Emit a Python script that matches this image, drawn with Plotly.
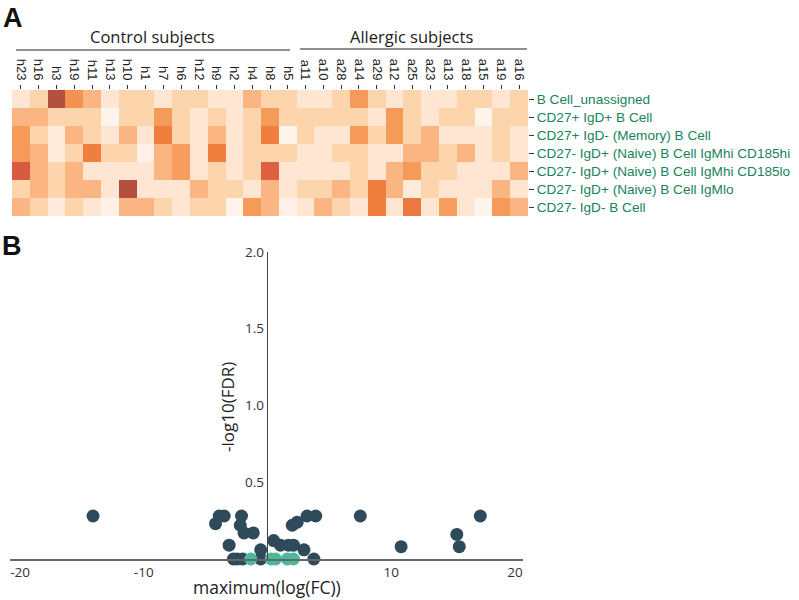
import plotly.graph_objects as go

W, H = 799, 600

# ---------------- Panel A data ----------------
subjects = ["h23", "h16", "h3", "h19", "h11", "h13", "h10", "h1", "h7", "h6", "h12", "h9",
            "h2", "h4", "h8", "h5",
            "a11", "a10", "a28", "a14", "a29", "a12", "a25", "a23", "a13", "a18", "a15", "a19", "a16"]
cell_types = ["B Cell_unassigned",
              "CD27+ IgD+ B Cell",
              "CD27+ IgD- (Memory) B Cell",
              "CD27- IgD+ (Naive) B Cell IgMhi CD185hi",
              "CD27- IgD+ (Naive) B Cell IgMhi CD185lo",
              "CD27- IgD+ (Naive) B Cell IgMlo",
              "CD27- IgD- B Cell"]
row_unassigned = [0.2, 0.3, 1.0, 0.65, 0.45, 0.2, 0.3, 0.3, 0.2, 0.3, 0.3, 0.2, 0.2, 0.45, 0.3, 0.3,
                  0.2, 0.2, 0.3, 0.62, 0.3, 0.2, 0.3, 0.2, 0.2, 0.3, 0.3, 0.2, 0.3]
row_cd27p_igdp = [0.45, 0.45, 0.3, 0.3, 0.3, 0.05, 0.3, 0.3, 0.62, 0.3, 0.2, 0.3, 0.2, 0.3, 0.62, 0.3,
                  0.3, 0.3, 0.3, 0.3, 0.2, 0.62, 0.3, 0.2, 0.3, 0.3, 0.05, 0.3, 0.3]
row_memory = [0.62, 0.3, 0.15, 0.45, 0.3, 0.2, 0.45, 0.2, 0.72, 0.3, 0.2, 0.45, 0.2, 0.3, 0.72, 0.05,
              0.3, 0.2, 0.2, 0.62, 0.3, 0.62, 0.3, 0.45, 0.2, 0.2, 0.2, 0.3, 0.2]
row_cd185hi = [0.62, 0.45, 0.15, 0.3, 0.72, 0.3, 0.3, 0.08, 0.45, 0.6, 0.2, 0.72, 0.2, 0.3, 0.3, 0.3,
               0.2, 0.2, 0.3, 0.3, 0.2, 0.2, 0.45, 0.45, 0.3, 0.45, 0.2, 0.3, 0.2]
row_cd185lo = [0.88, 0.45, 0.3, 0.45, 0.2, 0.2, 0.2, 0.2, 0.45, 0.6, 0.2, 0.3, 0.2, 0.3, 0.85, 0.2,
               0.2, 0.2, 0.2, 0.3, 0.2, 0.45, 0.62, 0.3, 0.3, 0.2, 0.2, 0.2, 0.45]
row_igmlo = [0.3, 0.45, 0.3, 0.45, 0.45, 0.2, 1.0, 0.2, 0.2, 0.2, 0.45, 0.3, 0.3, 0.2, 0.45, 0.2,
             0.3, 0.3, 0.45, 0.3, 0.72, 0.45, 0.15, 0.3, 0.2, 0.2, 0.2, 0.45, 0.2]
row_cd27m_igdm = [0.45, 0.3, 0.15, 0.3, 0.2, 0.08, 0.45, 0.45, 0.3, 0.2, 0.3, 0.3, 0.05, 0.62, 0.45, 0.08,
                  0.2, 0.45, 0.3, 0.2, 0.72, 0.2, 0.75, 0.2, 0.6, 0.2, 0.05, 0.62, 0.45]
heat_z = [row_unassigned, row_cd27p_igdp, row_memory, row_cd185hi,
          row_cd185lo, row_igmlo, row_cd27m_igdm]

# ---------------- Panel B data ----------------
dark_logfc = [-14.1, -3.9, -3.5, -4.2, -2.1, -2.2, -1.9, -1.15, -3.1, -2.75, -2.45, -2.0,
              -0.55, -0.55, 0.5, 1.05, 1.7, 2.1, 2.0, 2.4, 3.2, 3.9, 2.95, 3.75,
              7.5, 10.8, 15.3, 15.5, 17.2]
dark_fdr = [0.28, 0.28, 0.28, 0.23, 0.28, 0.22, 0.17, 0.17, 0.09, 0.0, 0.0, 0.0,
            0.06, 0.0, 0.12, 0.09, 0.09, 0.09, 0.22, 0.24, 0.28, 0.28, 0.06, 0.0,
            0.28, 0.08, 0.16, 0.08, 0.28]
teal_logfc = [-1.35, 0.3, 0.65, 1.6, 2.1]
teal_fdr = [0.0, 0.0, 0.0, 0.0, 0.0]
x_ticks = [-20, -10, 10, 20]
y_ticks = [0.5, 1.0, 1.5, 2.0]


def px(x):
    return x / W


def py(y):
    return 1 - y / H


colorscale = [[0, '#fffaf5'], [0.05, '#fff4ec'], [0.2, '#fee6d3'], [0.3, '#fdd5ad'],
              [0.45, '#fbb582'], [0.62, '#f69a5a'], [0.72, '#f07e3e'],
              [0.87, '#db5b42'], [1, '#b4503f']]

fig = go.Figure()
fig.add_trace(go.Heatmap(z=heat_z, x=subjects, y=cell_types, colorscale=colorscale,
                         zmin=0, zmax=1, showscale=False, xaxis='x', yaxis='y',
                         hoverinfo='skip'))

fig.add_trace(go.Scatter(x=dark_logfc, y=dark_fdr, mode='markers', xaxis='x2', yaxis='y2',
                         marker=dict(size=13, color='#2f4a5b'), cliponaxis=False,
                         showlegend=False))
fig.add_trace(go.Scatter(x=teal_logfc, y=teal_fdr, mode='markers', xaxis='x2', yaxis='y2',
                         marker=dict(size=13, color='#4cb89e'), cliponaxis=False,
                         showlegend=False))

sans = "Liberation Sans, Arial, sans-serif"
humanist = "Open Sans, sans-serif"

fig.update_layout(
    width=W, height=H, margin=dict(l=0, r=0, t=0, b=0, autoexpand=False),
    paper_bgcolor='white', plot_bgcolor='white', showlegend=False,
    xaxis=dict(domain=[px(12), px(528)], anchor='y', side='top', type='category',
               tickangle=90, ticks='outside', ticklen=4, tickcolor='#333',
               tickfont=dict(family=sans, size=13, color='#222'), automargin=False,
               showline=False, showgrid=False, zeroline=False, fixedrange=True),
    yaxis=dict(domain=[py(216), py(90)], anchor='x', side='right', type='category',
               autorange='reversed', ticks='outside', ticklen=5, tickcolor='#333',
               tickfont=dict(family=sans, size=13.6, color='#17845a'), automargin=False,
               showline=False, showgrid=False, zeroline=False),
    xaxis2=dict(domain=[px(10), px(523)], anchor='y2', range=[-20.81, 20.65],
                tickvals=x_ticks, ticktext=[str(v) for v in x_ticks], ticks='',
                tickfont=dict(family=humanist, size=13.5, color='#333'), automargin=False,
                showline=True, linecolor='#666', linewidth=2,
                showgrid=False, zeroline=False),
    yaxis2=dict(domain=[py(559), py(252)], anchor='free', position=px(266.7),
                range=[0, 2.0], tickvals=y_ticks, ticktext=['0.5', '1.0', '1.5', '2.0'],
                ticks='', tickfont=dict(family=humanist, size=13.5, color='#333'), automargin=False,
                showline=True, linecolor='#444', linewidth=1.2,
                showgrid=False, zeroline=False),
)

annotations = [
    dict(text="<b>A</b>", x=px(1), y=py(18), xanchor='left', yanchor='middle',
         font=dict(family=sans, size=27, color='#111')),
    dict(text="<b>B</b>", x=px(0), y=py(246), xanchor='left', yanchor='middle',
         font=dict(family=sans, size=27, color='#111')),
    dict(text="Control subjects", x=px(152), y=py(37), xanchor='center', yanchor='middle',
         font=dict(family=humanist, size=16.5, color='#222')),
    dict(text="Allergic subjects", x=px(411), y=py(37), xanchor='center', yanchor='middle',
         font=dict(family=humanist, size=16.5, color='#222')),
    dict(text="-log10(FDR)", x=px(227), y=py(407), xanchor='center', yanchor='middle',
         textangle=-90, font=dict(family=humanist, size=17, color='#222')),
    dict(text="maximum(log(FC))", x=px(267), y=py(587), xanchor='center', yanchor='middle',
         font=dict(family=humanist, size=17.5, color='#222')),
]
for a in annotations:
    a.update(xref='paper', yref='paper', showarrow=False)
fig.update_layout(annotations=annotations)

fig.update_layout(shapes=[
    dict(type='line', xref='paper', yref='paper', x0=px(16), x1=px(290), y0=py(50), y1=py(50),
         line=dict(color='#222', width=1.2)),
    dict(type='line', xref='paper', yref='paper', x0=px(300), x1=px(527), y0=py(49), y1=py(49),
         line=dict(color='#222', width=1.2)),
])

fig.write_html("out.html", config={'displayModeBar': False},
               post_script="document.body.style.margin='0';document.body.style.overflow='hidden';")
